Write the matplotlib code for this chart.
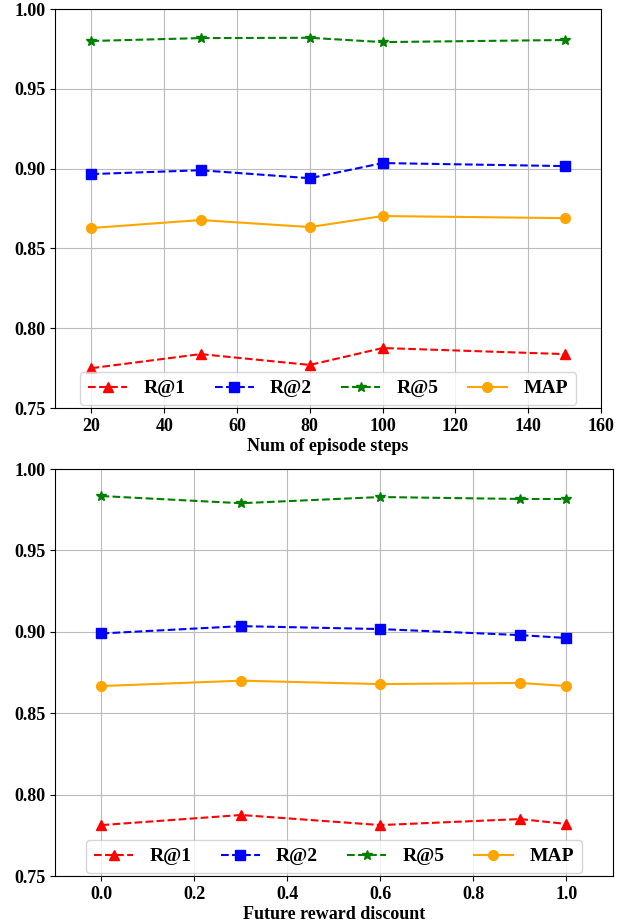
import matplotlib
matplotlib.use("Agg")
import matplotlib.pyplot as plt

plt.rcParams['font.family'] = ['Liberation Serif', 'DejaVu Serif']
plt.rcParams['font.weight'] = 'bold'
plt.rcParams['font.size'] = 13

# data: episode steps
steps = [20, 50, 80, 100, 150]
steps_r1 = [0.775, 0.7838, 0.777, 0.7876, 0.7838]
steps_r2 = [0.8966, 0.899, 0.894, 0.9035, 0.9016]
steps_r5 = [0.980, 0.9818, 0.982, 0.9793, 0.9806]
steps_map = [0.8628, 0.8678, 0.8634, 0.8703, 0.869]

# data: future reward discount
discount = [0.0, 0.3, 0.6, 0.9, 1.0]
disc_r1 = [0.7813, 0.7875, 0.7813, 0.785, 0.782]
disc_r2 = [0.8990, 0.9035, 0.9017, 0.898, 0.8962]
disc_r5 = [0.9834, 0.979, 0.9828, 0.9816, 0.9816]
disc_map = [0.8667, 0.870, 0.8679, 0.8686, 0.8667]

labels = ['R@1', 'R@2', 'R@5', 'MAP']
styles = [('r', '--', '^'), ('b', '--', 's'), ('g', '--', '*'), ('orange', '-', 'o')]


def draw(ax, x, series, xlabel):
    for ys, lab, (c, ls, m) in zip(series, labels, styles):
        ax.plot(x, ys, color=c, linestyle=ls, marker=m, markersize=7, label=lab)
    ax.set_ylim(0.75, 1.0)
    ax.set_yticks([0.75, 0.80, 0.85, 0.90, 0.95, 1.00])
    ax.grid(True, color='#bbbbbb')
    ax.set_xlabel(xlabel, fontweight='bold', labelpad=2)
    ax.legend(loc='lower center', ncol=4, columnspacing=1.5, handlelength=2.0,
              handletextpad=0.85, borderaxespad=0.15,
              prop={'weight': 'bold', 'size': 14})


fig = plt.figure(figsize=(6.3, 9.24), dpi=100)

ax1 = fig.add_axes([0.0873, 0.5584, 0.8667, 0.4318])
draw(ax1, steps, [steps_r1, steps_r2, steps_r5, steps_map], 'Num of episode steps')
ax1.set_xlim(10, 160)
ax1.set_xticks(range(20, 161, 20))

ax2 = fig.add_axes([0.0873, 0.0519, 0.8857, 0.4405])
draw(ax2, discount, [disc_r1, disc_r2, disc_r5, disc_map], 'Future reward discount')
ax2.set_xlim(-0.1, 1.1)
ax2.set_xticks([0.0, 0.2, 0.4, 0.6, 0.8, 1.0])

fig.savefig('out.png', dpi=100)
